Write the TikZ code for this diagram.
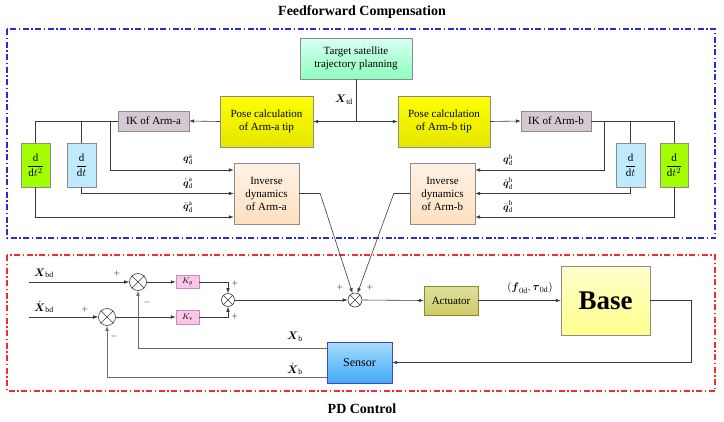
\documentclass[tikz,border=0pt]{standalone}
\usepackage{amsmath}
\usepackage{amssymb}
\usepackage{fontspec}
\setmainfont{Liberation Serif}
\usepackage{xcolor}
\usepackage{tikz}
\usetikzlibrary{
    arrows.meta,
    positioning
}
\definecolor{wire}{HTML}{3A3A3A}
\definecolor{fbwire}{HTML}{6E6E6E}
\definecolor{boxline}{HTML}{8C8C8C}
\definecolor{ffblue}{HTML}{2B2BD6}
\definecolor{pdred}{HTML}{F02C2C}
\tikzstyle{sig} = [
    wire,
    line width=0.6pt,
    -{Latex[length=5pt,width=3.6pt]}
]
\tikzstyle{wireline} = [
    wire,
    line width=0.6pt
]
\tikzstyle{block} = [
    draw=boxline,
    rectangle,
    inner sep=1pt,
    align=center
]
\tikzstyle{sumnode} = [
    draw=wire,
    circle,
    inner sep=0pt,
    line width=0.6pt
]
\tikzstyle{boxframe} = [
    line width=1.1pt,
    dash pattern=on 6pt off 2.5pt on 1.5pt off 2.5pt
]
\tikzstyle{siglabel} = [
    inner sep=0pt,
    font=\fontsize{10}{11}\selectfont
]

\begin{document}
\begin{tikzpicture}[x=1pt, y=-1pt, font=\fontsize{11}{13}\selectfont]
\useasboundingbox (0,0) rectangle (724,421);

\node (fftitle) at (362,12) {\fontsize{14}{16}\selectfont\bfseries Feedforward Compensation};
\node (pdtitle) at (362,409) {\fontsize{14}{16}\selectfont\bfseries PD Control};
\draw[boxframe, color=ffblue] (7,29) rectangle (715,238);
\draw[boxframe, color=pdred] (7,255) rectangle (715,391);

\node[block, top color=green!25!cyan!15, bottom color=green!60!cyan!45, minimum width=112pt, minimum height=41pt] (target) at (356,58.5) {Target satellite\\trajectory planning};
\node[block, top color=yellow, bottom color=yellow!90!black, minimum width=93pt, minimum height=51pt] (posea) at (266.5,121.5) {Pose calculation\\of Arm-a tip};
\node[block, top color=yellow, bottom color=yellow!90!black, minimum width=92pt, minimum height=51pt] (poseb) at (444,121.5) {Pose calculation\\of Arm-b tip};
\node[block, fill=violet!20!gray!35, minimum width=71pt, minimum height=20pt] (ika) at (153.5,121) {IK of Arm-a};
\node[block, fill=violet!20!gray!35, minimum width=70pt, minimum height=20pt] (ikb) at (556,121) {IK of Arm-b};
\node[block, fill=lime!85!green, minimum width=29pt, minimum height=44pt] (dda) at (35.5,165) {$\dfrac{\mathrm{d}}{\mathrm{d}t^2}$};
\node[block, fill=cyan!25, minimum width=29pt, minimum height=44pt] (da) at (81.5,165) {$\dfrac{\mathrm{d}}{\mathrm{d}t}$};
\node[block, fill=cyan!25, minimum width=29pt, minimum height=44pt] (db) at (630.5,165) {$\dfrac{\mathrm{d}}{\mathrm{d}t}$};
\node[block, fill=lime!85!green, minimum width=28pt, minimum height=44pt] (ddb) at (674,165) {$\dfrac{\mathrm{d}}{\mathrm{d}t^2}$};
\node[block, top color=orange!10, bottom color=orange!25, minimum width=65pt, minimum height=61pt] (inva) at (266.5,193.5) {Inverse\\dynamics\\of Arm-a};
\node[block, top color=orange!10, bottom color=orange!25, minimum width=65pt, minimum height=61pt] (invb) at (442.5,193.5) {Inverse\\dynamics\\of Arm-b};

\node[siglabel, anchor=east, font=\fontsize{11}{12}\selectfont] (xtd) at (353,100) {$\boldsymbol{X}_{\mathrm{td}}$};
\node[siglabel] (qa) at (188,160) {$\boldsymbol{q}_{\mathrm{d}}^{\mathrm{a}}$};
\node[siglabel] (dqa) at (188,183.5) {$\dot{\boldsymbol{q}}_{\mathrm{d}}^{\mathrm{a}}$};
\node[siglabel] (ddqa) at (188,207) {$\ddot{\boldsymbol{q}}_{\mathrm{d}}^{\mathrm{a}}$};
\node[siglabel] (qb) at (508,160) {$\boldsymbol{q}_{\mathrm{d}}^{\mathrm{b}}$};
\node[siglabel] (dqb) at (508,183.5) {$\dot{\boldsymbol{q}}_{\mathrm{d}}^{\mathrm{b}}$};
\node[siglabel] (ddqb) at (508,207) {$\ddot{\boldsymbol{q}}_{\mathrm{d}}^{\mathrm{b}}$};

\draw[sig] (target.south) |- (posea.east);
\draw[sig] (target.south) |- (poseb.west);
\draw[sig] (posea.west) -- (ika.east);
\draw[sig] (poseb.east) -- (ikb.west);
\draw[wireline] (ika.west) -| (dda.north);
\draw[wireline] (da.north) |- (ika.west);
\draw[sig] ([xshift=-8pt]ika.west) |- ([yshift=23.5pt]inva.west);
\draw[sig] (da.south) |- (inva.west);
\draw[sig] (dda.south) |- ([yshift=-23.5pt]inva.west);
\draw[wireline] (ikb.east) -| (ddb.north);
\draw[wireline] (db.north) |- (ikb.east);
\draw[sig] ([xshift=13pt]ikb.east) |- ([yshift=23.5pt]invb.east);
\draw[sig] (db.south) |- (invb.east);
\draw[sig] (ddb.south) |- ([yshift=-23.5pt]invb.east);

\node[sumnode, minimum size=17pt] (sum1) at (138,282) {};
\node[sumnode, minimum size=17pt] (sum2) at (107,317) {};
\node[sumnode, minimum size=13pt] (sum3) at (228,300) {};
\node[sumnode, minimum size=14pt] (sum0) at (355,300) {};
\foreach \s in {sum0,sum1,sum2,sum3}
    \draw[wireline] (\s.45) -- (\s.225) (\s.135) -- (\s.315);

\node[block, draw=violet!45, fill=magenta!22, minimum width=23pt, minimum height=13pt, font=\footnotesize] (kp) at (187.5,282) {$K_{\mathrm{p}}$};
\node[block, draw=violet!45, fill=magenta!22, minimum width=23pt, minimum height=14pt, font=\footnotesize] (kv) at (187.5,317) {$K_{\mathrm{v}}$};
\node[block, draw=olive!70!gray, top color=olive!25!white, bottom color=olive!40!white, minimum width=54pt, minimum height=29pt, font=\fontsize{11}{13}\selectfont] (act) at (451,300.5) {Actuator};
\node[block, top color=yellow!20, bottom color=yellow!45, minimum width=89pt, minimum height=69pt, font=\fontsize{27}{29}\selectfont\bfseries] (base) at (605.5,300.5) {Base};
\node[block, draw=blue!45!gray, top color={rgb,255:red,168;green,221;blue,255}, bottom color={rgb,255:red,63;green,169;blue,245}, minimum width=65pt, minimum height=41pt, font=\fontsize{12}{14}\selectfont] (sensor) at (359.5,362.5) {Sensor};

\coordinate (xin) at (29,282);
\coordinate (dxin) at (29,317);
\node[siglabel, anchor=south west, font=\fontsize{11}{12}\selectfont] (xbd) at (34,278) {$\boldsymbol{X}_{\mathrm{bd}}$};
\node[siglabel, anchor=south west, font=\fontsize{11}{12}\selectfont] (dxbd) at (34,313) {$\dot{\boldsymbol{X}}_{\mathrm{bd}}$};
\node[siglabel, font=\fontsize{11}{12}\selectfont] (xb) at (295,337) {$\boldsymbol{X}_{\mathrm{b}}$};
\node[siglabel, font=\fontsize{11}{12}\selectfont] (dxb) at (295,369) {$\dot{\boldsymbol{X}}_{\mathrm{b}}$};
\node[siglabel, font=\fontsize{11}{12}\selectfont] (ftau) at (530,288) {$\left(\boldsymbol{f}_{0\mathrm{d}},\boldsymbol{\tau}_{0\mathrm{d}}\right)$};

\node[font=\footnotesize] (p1) at (117,273) {$+$};
\node[font=\footnotesize] (m1) at (147,302) {$-$};
\node[font=\footnotesize] (p2) at (85,309) {$+$};
\node[font=\footnotesize] (m2) at (114,336) {$-$};
\node[font=\footnotesize] (p3) at (235,283) {$+$};
\node[font=\footnotesize] (p4) at (235,316) {$+$};
\node[font=\footnotesize] (p5) at (340,287) {$+$};
\node[font=\footnotesize] (p6) at (370,287) {$+$};

\draw[sig] (xin) -- (sum1.west);
\draw[sig] (dxin) -- (sum2.west);
\draw[sig] (sum1.east) -- (kp.west);
\draw[sig] (sum2.east) -- (kv.west);
\draw[sig] (kp.east) -| (sum3.north);
\draw[sig] (kv.east) -| (sum3.south);
\draw[sig] (sum3.east) -- (sum0.west);
\draw[sig] (inva.east) -- ++(21,0) -- (sum0.110);
\draw[sig] (invb.west) -- ++(-16,0) -- (sum0.70);
\draw[sig] (sum0.east) -- (act.west);
\draw[sig] (act.east) -- (base.west);
\draw[sig] (base.east) -- ++(41,0) |- (sensor.east);
\draw[sig, fbwire] ([yshift=-6pt]sensor.north west) -| (sum1.south);
\draw[sig, fbwire] ([yshift=6pt]sensor.south west) -| (sum2.south);
\end{tikzpicture}
\end{document}
